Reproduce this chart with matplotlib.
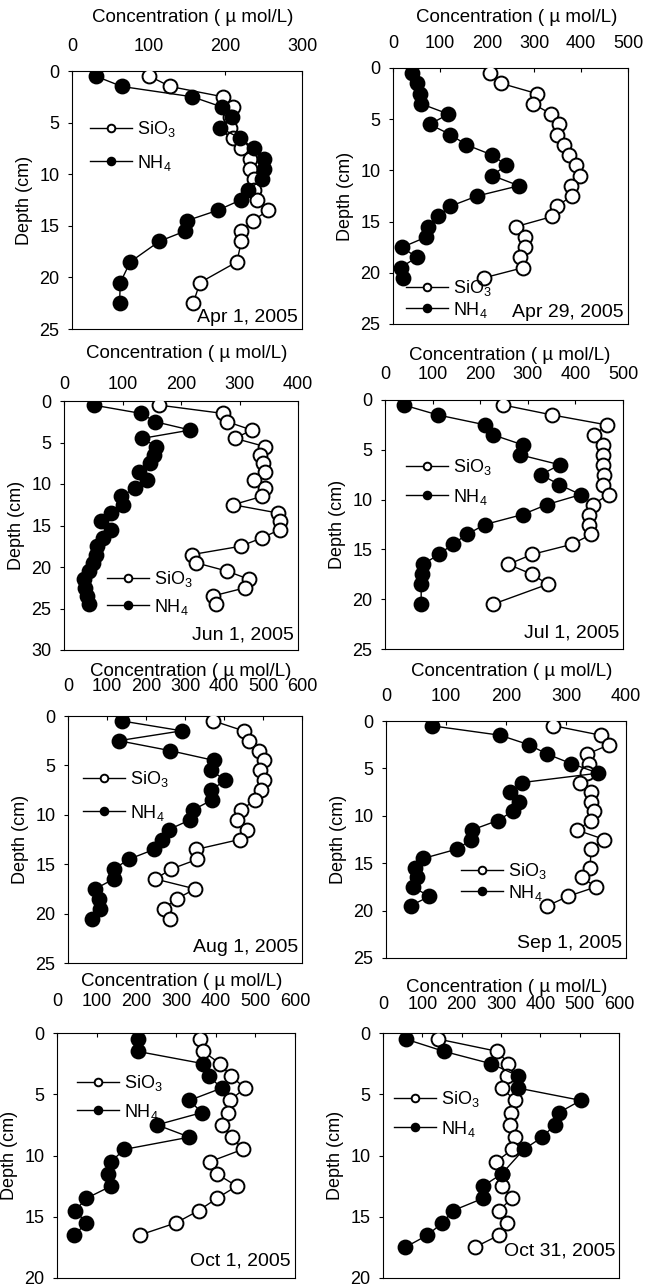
import matplotlib.pyplot as plt
from matplotlib.lines import Line2D

plt.rcParams['font.family'] = ['Liberation Sans', 'DejaVu Sans']
plt.rcParams['mathtext.fontset'] = 'custom'
plt.rcParams['mathtext.rm'] = 'Liberation Sans'

W, H = 652, 1288

# depth of each slice (cm) and pore water concentrations (umol/L)
apr1_depth = [0.5, 1.5, 2.5, 3.5, 4.5, 5.5, 6.5, 7.5, 8.5, 9.5, 10.5, 11.5,
              12.5, 13.5, 14.5, 15.5, 16.5, 18.5, 20.5, 22.5]
apr1_sio3 = [101, 128, 197, 210, 206, 206, 210, 220, 232, 232, 237, 237,
             241, 256, 236, 221, 221, 215, 167, 158]
apr1_nh4 = [31, 65, 157, 196, 209, 193, 219, 237, 250, 251, 248, 230,
            220, 190, 150, 148, 114, 76, 63, 62]

apr29_depth = [d + 0.5 for d in range(21)]
apr29_sio3 = [206, 230, 306, 298, 337, 353, 349, 363, 374, 389, 397, 379,
              381, 348, 339, 261, 280, 280, 270, 277, 193]
apr29_nh4 = [41, 51, 58, 60, 118, 78, 122, 156, 211, 241, 211, 268,
             179, 122, 96, 74, 71, 20, 50, 16, 21]

jun1_depth = [d + 0.5 for d in range(25)]
jun1_sio3 = [163, 272, 279, 321, 292, 344, 335, 341, 344, 324, 344, 338, 289,
             366, 369, 369, 338, 302, 219, 226, 279, 317, 310, 254, 260]
jun1_nh4 = [51, 132, 156, 216, 134, 158, 153, 147, 128, 142, 122, 97, 101,
            80, 63, 80, 66, 57, 54, 49, 43, 35, 36, 39, 42]

jul1_depth = [0.5, 1.5, 2.5, 3.5, 4.5, 5.5, 6.5, 7.5, 8.5, 9.5, 10.5, 11.5,
              12.5, 13.5, 14.5, 15.5, 16.5, 17.5, 18.5, 20.5]
jul1_sio3 = [248, 351, 466, 440, 457, 459, 459, 461, 459, 470, 436, 428,
             428, 433, 392, 309, 259, 309, 342, 227]
jul1_nh4 = [39, 111, 211, 227, 289, 283, 367, 328, 366, 411, 340, 289,
            210, 172, 142, 113, 80, 77, 76, 76]

aug1_depth = [d + 0.5 for d in range(21)]
aug1_sio3 = [373, 450, 463, 491, 502, 493, 502, 496, 480, 444, 433, 459,
             440, 329, 332, 264, 224, 326, 279, 245, 262]
aug1_nh4 = [138, 292, 130, 261, 375, 367, 403, 367, 369, 321, 314, 258,
            241, 221, 156, 117, 117, 70, 79, 83, 62]

sep1_sio3_depth = [0.5, 1.5, 2.5, 3.5, 4.5, 5.5, 6.5, 7.5, 8.5, 9.5, 10.5,
                   11.5, 12.5, 13.5, 15.5, 16.5, 17.5, 18.5, 19.5]
sep1_sio3 = [279, 358, 372, 335, 339, 335, 323, 342, 342, 346, 342,
             318, 364, 342, 340, 326, 350, 303, 269]
sep1_nh4_depth = [d + 0.5 for d in range(20)]
sep1_nh4 = [76, 190, 238, 269, 309, 354, 226, 207, 222, 212, 186, 143,
            142, 119, 62, 49, 51, 45, 72, 41]

oct1_depth = [d + 0.5 for d in range(17)]
oct1_sio3 = [361, 368, 411, 438, 474, 436, 432, 415, 441, 468, 386, 403,
             453, 403, 357, 300, 208]
oct1_nh4 = [203, 203, 368, 382, 415, 334, 365, 252, 334, 170, 136, 128,
            136, 74, 46, 74, 44]

oct31_sio3_depth = [d + 0.5 for d in range(18)]
oct31_sio3 = [141, 291, 319, 316, 302, 336, 325, 322, 336, 329, 288, 302,
              303, 327, 295, 316, 295, 233]
oct31_nh4_depth = [0.5, 1.5, 2.5, 3.5, 4.5, 5.5, 6.5, 7.5, 8.5, 9.5,
                   11.5, 12.5, 13.5, 14.5, 15.5, 16.5, 17.5]
oct31_nh4 = [58, 155, 274, 344, 344, 503, 447, 437, 405, 358,
             302, 254, 254, 178, 151, 113, 56]

dates = ['Apr 1, 2005', 'Apr 29, 2005', 'Jun 1, 2005', 'Jul 1, 2005',
         'Aug 1, 2005', 'Sep 1, 2005', 'Oct 1, 2005', 'Oct 31, 2005']
x_max = [300, 500, 400, 500, 600, 400, 600, 600]
depth_max = [25, 25, 30, 25, 25, 25, 20, 20]

series = [
    (apr1_depth, apr1_sio3, apr1_depth, apr1_nh4),
    (apr29_depth, apr29_sio3, apr29_depth, apr29_nh4),
    (jun1_depth, jun1_sio3, jun1_depth, jun1_nh4),
    (jul1_depth, jul1_sio3, jul1_depth, jul1_nh4),
    (aug1_depth, aug1_sio3, aug1_depth, aug1_nh4),
    (sep1_sio3_depth, sep1_sio3, sep1_nh4_depth, sep1_nh4),
    (oct1_depth, oct1_sio3, oct1_depth, oct1_nh4),
    (oct31_sio3_depth, oct31_sio3, oct31_nh4_depth, oct31_nh4),
]

# pixel layout: axes box (l, t, r, b), tick label / title distance above the box,
# legend (x, row1 y, row2 y), baseline of the date label
boxes = [(72, 71, 302, 329), (393, 68, 628, 324),
         (64, 401, 298, 650), (385, 400, 623, 649),
         (68, 716, 302, 963), (386, 721, 626, 958),
         (57, 1033, 295, 1278), (383, 1033, 619, 1278)]
tick_dist = [26, 26, 18, 27, 31, 26, 33, 30]
title_dist = [53, 50, 48, 45, 45, 49, 51, 45]
legend_px = [(90, 129, 163), (406, 288, 310), (107, 579, 607), (406, 467, 497),
             (83, 779, 813), (461, 871, 893), (77, 1083, 1112), (394, 1099, 1129)]
date_base = [322, 317, 640, 637, 952, 948, 1265, 1255]

fig = plt.figure(figsize=(W / 100, H / 100), dpi=100)

for i in range(8):
    l, t, r, b = boxes[i]
    w, h = r - l, b - t
    ax = fig.add_axes([l / W, 1 - b / H, w / W, h / H])
    ds, sio3, dn, nh4 = series[i]

    ax.plot(sio3, ds, '-o', color='black', lw=1.0, ms=10, mfc='white',
            mec='black', mew=1.4, zorder=3)
    ax.plot(nh4, dn, '-o', color='black', lw=1.0, ms=10, mfc='black',
            mec='black', mew=1.4, zorder=4)

    ax.set_xlim(0, x_max[i])
    ax.set_ylim(depth_max[i], 0)
    ax.set_xticks(range(0, x_max[i] + 1, 100))
    ax.set_yticks(range(0, depth_max[i] + 1, 5))
    ax.xaxis.tick_top()
    ax.tick_params(axis='x', direction='in', length=3, labelsize=13,
                   pad=(tick_dist[i] - 10) * 0.72)
    ax.tick_params(axis='y', direction='out', length=3, labelsize=13, pad=6)
    for s in ax.spines.values():
        s.set_linewidth(0.8)

    ax.set_ylabel('Depth (cm)', fontsize=13)
    ax.yaxis.set_label_coords(-39 / w, 0.5)
    ax.text(0.5 + 6 / w, 1 + title_dist[i] / h, 'Concentration ( µ mol/L)',
            transform=ax.transAxes, ha='center', va='center', fontsize=13.5)

    ax.text(1 - 4 / w, (b - date_base[i]) / h, dates[i], transform=ax.transAxes,
            ha='right', va='baseline', fontsize=14)

    lx, r1, r2 = legend_px[i]
    gap = r2 - r1
    handles = [Line2D([], [], color='black', lw=1.0, marker='o', ms=10,
                      mfc='white', mec='black', mew=1.4),
               Line2D([], [], color='black', lw=1.0, marker='o', ms=10,
                      mfc='black', mec='black', mew=1.4)]
    ax.legend(handles, ['SiO$_{\\mathregular{3}}$', 'NH$_{\\mathregular{4}}$'],
              loc='center left',
              bbox_to_anchor=((lx - l) / w, 1 - ((r1 + r2) / 2 - t) / h),
              frameon=False, borderpad=0, borderaxespad=0, fontsize=13,
              handlelength=2.3, handletextpad=0.3, markerscale=0.55,
              labelspacing=max((gap - 21) / 18, 0.0))

fig.savefig('out.png', dpi=100)
